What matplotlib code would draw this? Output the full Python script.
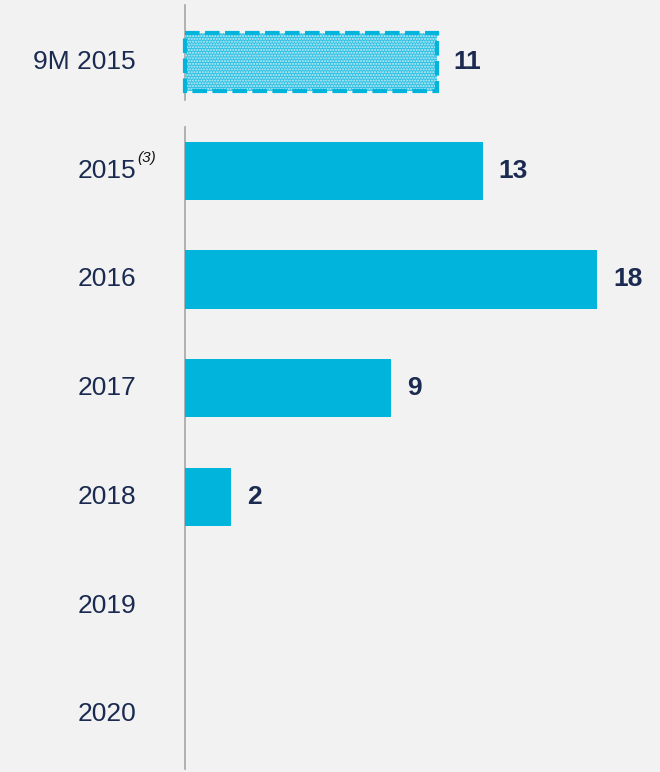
import matplotlib
matplotlib.use("Agg")
import matplotlib.pyplot as plt

categories = ["9M 2015", "2015", "2016", "2017", "2018", "2019", "2020"]
values = [11, 13, 18, 9, 2, None, None]
value_labels = ["11", "13", "18", "9", "2", "", ""]

plt.rcParams['font.family'] = ['Liberation Sans', 'DejaVu Sans']
BG = '#f2f2f2'
BAR = '#00b4dc'
NAVY = '#1b2a50'

fig = plt.figure(figsize=(6.6, 7.72), dpi=100, facecolor=BG)
ax = fig.add_axes([0, 0, 1, 1], facecolor=BG)
ax.set_xlim(-8.08, 20.74)
ax.set_ylim(6.53, -0.57)
ax.axis('off')

h = 0.535
plt.rcParams['hatch.linewidth'] = 1.0
for i, (cat, v, lab) in enumerate(zip(categories, values, value_labels)):
    if v is not None:
        if i == 0:
            ax.barh(i, v, height=h, left=0, color='#2fc0e2', edgecolor='#c8eef8',
                    hatch='......', linewidth=0, zorder=2)
            ax.barh(i, v, height=h, left=0, color='none', edgecolor=BAR,
                    linewidth=3, linestyle=(0, (3.5, 1.3)), zorder=3)
        else:
            ax.barh(i, v, height=h, left=0, color=BAR, linewidth=0, zorder=2)
        ax.text(v + 0.7, i, lab, ha='left', va='center', fontsize=19,
                fontweight='bold', color=NAVY)
    ax.text(-2.14, i, cat, ha='right', va='center', fontsize=19, color=NAVY)
    if cat == "2015":
        ax.annotate("(3)", xy=(-2.14, i), xytext=(1, 4), textcoords='offset points',
                    ha='left', va='bottom', fontsize=11, style='italic', color='#111111')

ax.plot([0, 0], [-0.52, 0.35], color='#a6a6a6', linewidth=1.2, zorder=1)
ax.plot([0, 0], [0.6, 6.5], color='#a6a6a6', linewidth=1.2, zorder=1)

fig.savefig("out.png", dpi=100, facecolor=BG)
